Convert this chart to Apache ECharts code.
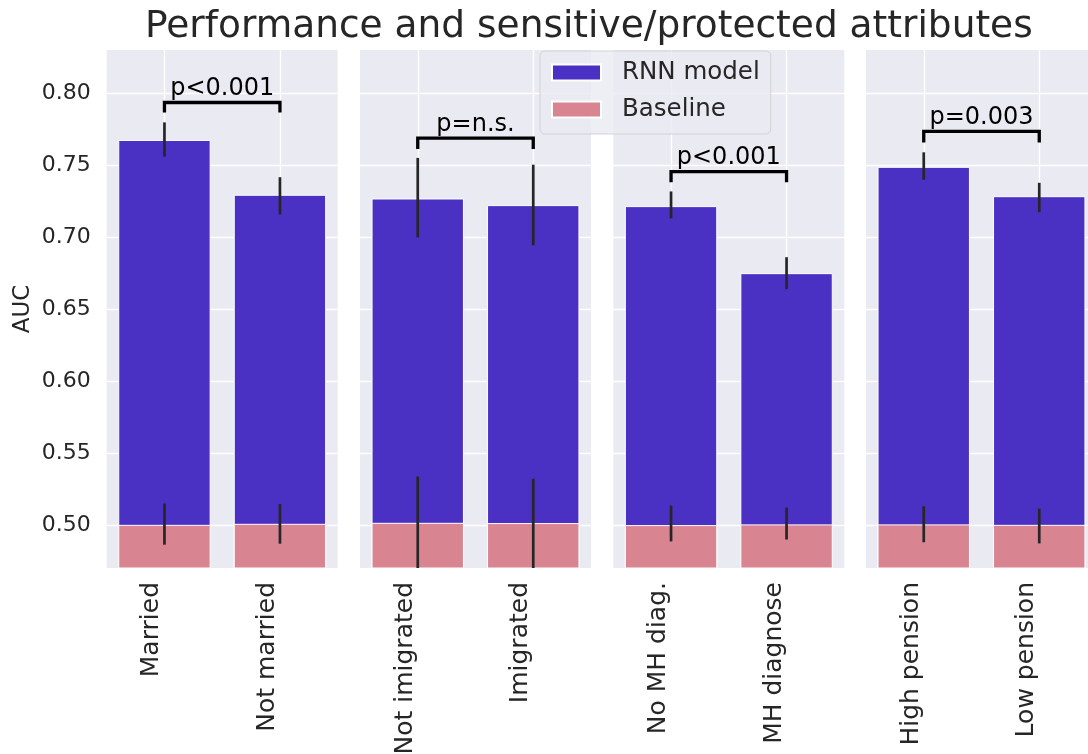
<!DOCTYPE html>
<html>
<head>
<meta charset="utf-8">
<title>Performance and sensitive/protected attributes</title>
<script src="https://cdn.jsdelivr.net/npm/echarts@6/dist/echarts.min.js"></script>
<style>
  html, body { margin: 0; padding: 0; background: #ffffff; }
  #chart { width: 1088px; height: 754px; }
</style>
</head>
<body>
<div id="chart"></div>
<script>
// Group labels, two per panel
const categories = ['Married', 'Not married', 'Not imigrated', 'Imigrated',
                    'No MH diag.', 'MH diagnose', 'High pension', 'Low pension'];

// RNN model AUC with its confidence interval
const rnnAuc  = [0.7675, 0.7294, 0.7268, 0.7222, 0.7215, 0.6749, 0.7488, 0.7284];
const rnnLow  = [0.7559, 0.7157, 0.6998, 0.6943, 0.7130, 0.6638, 0.7398, 0.7173];
const rnnHigh = [0.7797, 0.7416, 0.7550, 0.7503, 0.7317, 0.6860, 0.7589, 0.7377];

// Baseline AUC with its confidence interval
const baseAuc  = [0.5000, 0.5007, 0.5014, 0.5012, 0.4998, 0.5003, 0.5003, 0.5000];
const baseLow  = [0.4862, 0.4869, 0.4690, 0.4700, 0.4885, 0.4898, 0.4879, 0.4871];
const baseHigh = [0.5148, 0.5144, 0.5336, 0.5320, 0.5134, 0.5120, 0.5129, 0.5113];

// Significance annotation per panel
const pLabels     = ['p<0.001', 'p=n.s.', 'p<0.001', 'p=0.003'];
const bracketBase = [0.7866, 0.7612, 0.7381, 0.7658];
const bracketTop  = [0.7935, 0.7688, 0.7455, 0.7734];

// Shared y range
const yMin = 0.47;
const yMax = 0.83;

const TEXT = '#262626';
const PANEL_BG = '#EAEAF2';
const RNN_COLOR = '#4A31C4';
const BASE_COLOR = '#D98491';

const panelLefts = [106.7, 360, 613.3, 866];
const panelWidth = 231;
const nPanels = 4;

const grids = [], xAxes = [], yAxes = [], series = [];

// Vertical confidence-interval line for one bar
function errorBarItem(params, api) {
  const x = api.value(0);
  const lo = api.coord([x, api.value(1)]);
  const hi = api.coord([x, api.value(2)]);
  return {
    type: 'line',
    shape: { x1: lo[0], y1: lo[1], x2: hi[0], y2: hi[1] },
    style: { stroke: TEXT, lineWidth: 2.7 }
  };
}

for (let p = 0; p < nPanels; p++) {
  const cats = categories.slice(2 * p, 2 * p + 2);
  grids.push({
    left: panelLefts[p], top: 50, width: panelWidth, height: 518,
    show: true, backgroundColor: PANEL_BG, borderWidth: 0,
    outerBoundsMode: 'none'
  });
  xAxes.push({
    type: 'category', gridIndex: p, data: cats,
    axisLine: { show: false }, axisTick: { show: false },
    axisLabel: {
      rotate: 90, fontSize: 25, color: TEXT, margin: 14,
      verticalAlign: 'bottom'
    },
    splitLine: { show: true, alignWithLabel: true, lineStyle: { color: '#ffffff', width: 1.3 } }
  });
  yAxes.push({
    type: 'value', gridIndex: p, min: yMin, max: yMax, splitNumber: 7,
    name: p === 0 ? 'AUC' : '', nameLocation: 'middle', nameGap: 72,
    nameTextStyle: { fontSize: 23, color: TEXT },
    axisLine: { show: false }, axisTick: { show: false },
    axisLabel: {
      show: p === 0, fontSize: 22, color: TEXT, margin: 16,
      showMinLabel: false, showMaxLabel: false,
      formatter: v => Math.abs(v * 20 - Math.round(v * 20)) < 1e-6 ? v.toFixed(2) : ''
    },
    splitLine: {
      show: true, showMinLine: false, showMaxLine: false,
      lineStyle: { color: '#ffffff', width: 1.3 }
    }
  });

  series.push({
    name: 'RNN model', type: 'bar', xAxisIndex: p, yAxisIndex: p,
    data: rnnAuc.slice(2 * p, 2 * p + 2),
    barWidth: '80%', barGap: '-100%', z: 2,
    itemStyle: { color: RNN_COLOR, borderColor: '#ffffff', borderWidth: 1 }
  });
  series.push({
    name: 'Baseline', type: 'bar', xAxisIndex: p, yAxisIndex: p,
    data: baseAuc.slice(2 * p, 2 * p + 2),
    barWidth: '80%', barGap: '-100%', z: 3,
    itemStyle: { color: BASE_COLOR, borderColor: '#ffffff', borderWidth: 1 }
  });

  const errData = [];
  for (let k = 0; k < 2; k++) {
    const i = 2 * p + k;
    errData.push([k, rnnLow[i], rnnHigh[i]]);
    errData.push([k, baseLow[i], baseHigh[i]]);
  }
  series.push({
    type: 'custom', xAxisIndex: p, yAxisIndex: p, z: 4, clip: true,
    silent: true, data: errData, renderItem: errorBarItem
  });

  // Bracket joining the two bars, with the p-value above it
  const label = pLabels[p];
  series.push({
    type: 'custom', xAxisIndex: p, yAxisIndex: p, z: 5, silent: true,
    data: [[0, bracketBase[p], 1, bracketTop[p]]],
    renderItem: function (params, api) {
      const a = api.coord([api.value(0), api.value(1)]);
      const b = api.coord([api.value(0), api.value(3)]);
      const c = api.coord([api.value(2), api.value(3)]);
      const d = api.coord([api.value(2), api.value(1)]);
      return {
        type: 'group',
        children: [
          { type: 'polyline', shape: { points: [a, b, c, d] },
            style: { stroke: '#000000', lineWidth: 3.3, fill: null, lineJoin: 'miter' } },
          { type: 'text', x: (b[0] + c[0]) / 2, y: b[1] - 1.5,
            style: { text: label, fontSize: 24, fill: '#000000', align: 'center',
                     verticalAlign: 'bottom', fontFamily: 'DejaVu Sans' } }
        ]
      };
    }
  });
}

const chart = echarts.init(document.getElementById('chart'), null, { renderer: 'canvas' });
chart.setOption({
  animation: false,
  backgroundColor: '#ffffff',
  textStyle: { fontFamily: 'DejaVu Sans' },
  title: {
    text: 'Performance and sensitive/protected attributes',
    left: 145, top: 8, padding: 0,
    textStyle: { fontSize: 37.5, fontWeight: 'normal', color: TEXT }
  },
  legend: {
    data: ['RNN model', 'Baseline'],
    orient: 'vertical', left: 540, top: 51,
    icon: 'rect', itemWidth: 49, itemHeight: 16, itemGap: 12,
    padding: [9, 11, 12, 11],
    backgroundColor: 'rgba(234,234,242,0.8)',
    borderColor: 'rgba(204,204,204,0.8)', borderWidth: 1, borderRadius: 5,
    textStyle: { fontSize: 24.5, color: TEXT, padding: [0, 0, 0, 16] },
    z: 10
  },
  grid: grids,
  xAxis: xAxes,
  yAxis: yAxes,
  series: series
});
</script>
</body>
</html>
